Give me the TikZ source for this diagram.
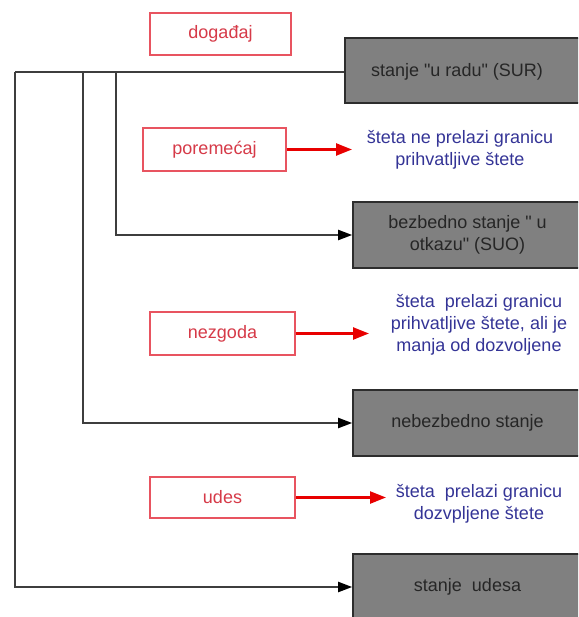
\documentclass[tikz,border=0pt]{standalone}
\usepackage{fontspec}
\setmainfont{Liberation Sans}
\usetikzlibrary{arrows.meta}
\definecolor{evred}{RGB}{232,84,96}
\definecolor{evtext}{RGB}{214,58,72}
\definecolor{arrred}{RGB}{232,0,0}
\definecolor{dmgblue}{RGB}{52,52,150}
\definecolor{stfill}{RGB}{128,128,128}
\definecolor{stborder}{RGB}{45,45,45}
\definecolor{wire}{RGB}{62,62,62}
\newcommand{\q}{\textquotedbl}
\tikzset{
  eventbox/.style={draw=evred, line width=1.6pt, fill=white, text=evtext,
    font=\fontsize{18}{22}\selectfont, inner sep=0pt},
  statebox/.style={draw=stborder, line width=1.6pt, fill=stfill, text=black!85,
    font=\fontsize{18}{22}\selectfont, align=center, inner sep=0pt,
    minimum width=229pt},
  damage/.style={text=dmgblue, font=\fontsize{18}{22}\selectfont, align=center,
    inner sep=0pt},
  wireline/.style={draw=wire, line width=2pt},
  wirearrow/.style={wireline, -{Triangle[length=14pt,width=10pt,color=black]}},
  redarrow/.style={draw=arrred, line width=2.4pt, -{Triangle[length=16pt,width=12pt]}}
}
\begin{document}
\begin{tikzpicture}[x=1pt,y=-1pt]
\clip (0,0) rectangle (578,617);
\useasboundingbox (0,0) rectangle (578,617);

% states
\node[statebox, minimum width=237pt, minimum height=65pt] (sur) at (463.5,70.5) {};
\node[font=\fontsize{18}{22}\selectfont, text=black!85] (surtxt) at (457,72) {stanje \q u radu\q{} (SUR)};
\node[statebox, minimum height=66pt] (suo) at (467.5,235) {bezbedno stanje \q{} u\\otkazu\q{} (SUO)};
\node[statebox, minimum height=66pt] (neb) at (467.5,423) {nebezbedno stanje};
\node[statebox, minimum height=66pt] (uds) at (467.5,587) {stanje\ \ udesa};

% events
\node[eventbox, minimum width=141pt, minimum height=42pt] (dog) at (220.5,34) {događaj};
\node[eventbox, minimum width=143pt, minimum height=43pt] (por) at (214.5,149.5) {poremećaj};
\node[eventbox, minimum width=145pt, minimum height=43pt] (nez) at (222.5,333.5) {nezgoda};
\node[eventbox, minimum width=145pt, minimum height=41pt] (ude) at (222.5,497.5) {udes};

% consequences
\node[damage] (d1) at (460,150) {šteta ne prelazi granicu\\prihvatljive štete};
\node[damage] (d2) at (479,325) {šteta\ \ prelazi granicu\\prihvatljive štete, ali je\\manja od dozvoljene};
\node[damage] (d3) at (479,504) {šteta\ \ prelazi granicu\\dozvpljene štete};

\coordinate (t1) at (352,149.5);
\coordinate (t2) at (369,333.5);
\coordinate (t3) at (386,497.5);
\draw[redarrow] (por.east) -- (t1);
\draw[redarrow] (nez.east) -- (t2);
\draw[redarrow] (ude.east) -- (t3);

% transitions out of the working state
\coordinate (c1) at (15,72);
\coordinate (c2) at (83,72);
\coordinate (c3) at (116,72);
\draw[wireline] (sur.west |- c1) -- (c1);
\draw[wirearrow] (c1) -- (c1 |- uds.west) -- (uds.west);
\draw[wirearrow] (c2) -- (c2 |- neb.west) -- (neb.west);
\draw[wirearrow] (c3) -- (c3 |- suo.west) -- (suo.west);
\end{tikzpicture}
\end{document}
